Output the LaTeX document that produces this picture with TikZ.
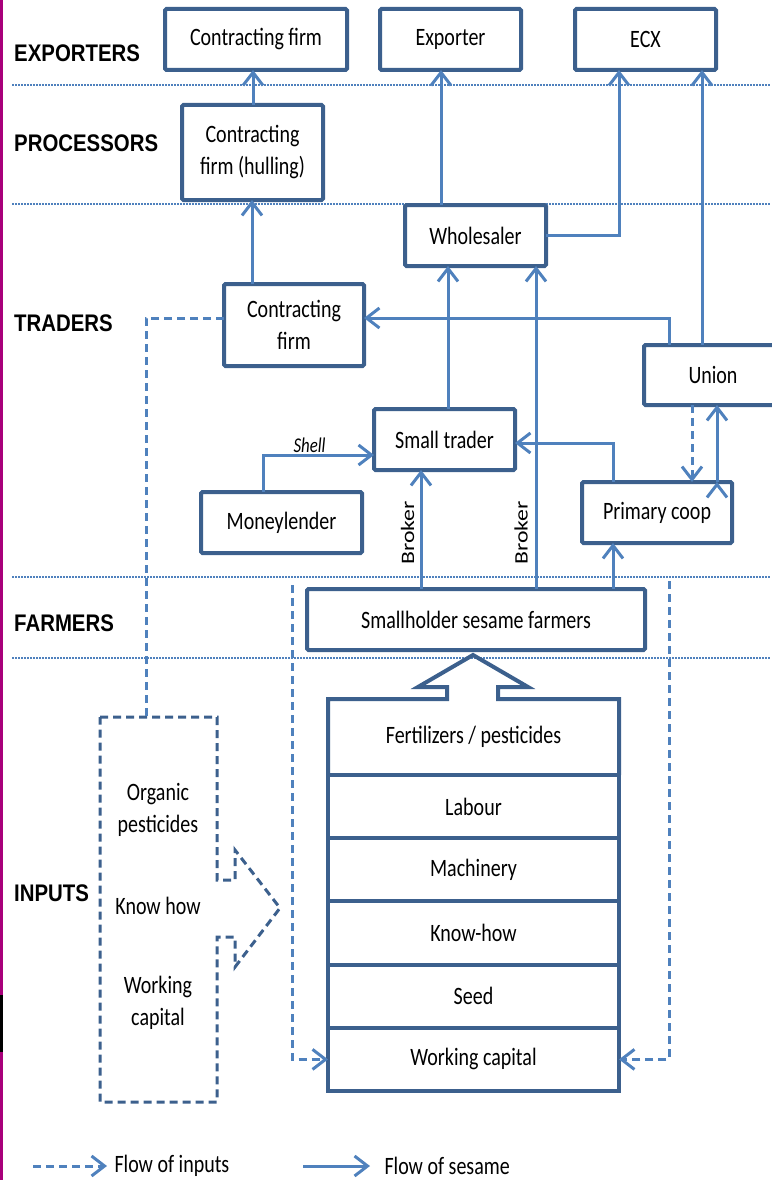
\documentclass[tikz,border=0pt]{standalone}
\usepackage{fontspec}
\setmainfont{Carlito}[FakeStretch=0.8]
\newfontfamily\tierfont{Liberation Sans}[FakeStretch=0.85]
\newfontfamily\brokerfont{Carlito}[FakeStretch=1.25]
\usetikzlibrary{arrows.meta, positioning}

\definecolor{boxblue}{RGB}{60,96,141}
\definecolor{flowblue}{RGB}{79,129,189}
\definecolor{stripmag}{RGB}{168,0,122}

\newcommand{\boxtext}{\fontsize{25}{32}\selectfont}

\tikzset{
  actor/.style={draw=boxblue, line width=4pt, fill=white, rounded corners=1.5pt,
    inner sep=0pt, outer sep=0pt, align=center, font=\boxtext},
  stackrow/.style={actor, minimum width=291pt, minimum height=63.2pt, rounded corners=0pt},
  tier/.style={anchor=west, inner sep=0pt, font=\tierfont\bfseries\fontsize{24}{28}\selectfont},
  sesameflow/.style={draw=flowblue, line width=3pt, -{Straight Barb[length=13pt,width=20pt]}},
  inflow/.style={sesameflow, dash pattern=on 8pt off 5pt},
  tierline/.style={draw=flowblue, line width=1.5pt, dash pattern=on 1.5pt off 1.5pt},
  broker/.style={rotate=90, inner sep=0pt, font=\brokerfont\fontsize{19}{22}\selectfont},
}

\begin{document}
\begin{tikzpicture}[x=1pt, y=-1pt]
  \useasboundingbox (0,0) rectangle (771,1180);
  \fill[stripmag] (0,0) rectangle (3,1180);
  \fill[black] (0,995) rectangle (3,1052);

  % tiers
  \foreach \ly in {85,204,577,658}
    \draw[tierline] (12,\ly) -- (771,\ly);
  \node[tier] (lblexp)  at (14,53)  {EXPORTERS};
  \node[tier] (lblproc) at (14,143) {PROCESSORS};
  \node[tier] (lbltrad) at (14,323) {TRADERS};
  \node[tier] (lblfarm) at (14,623) {FARMERS};
  \node[tier] (lblinp)  at (14,893) {INPUTS};

  % exporters and processors
  \node[actor, minimum width=182pt, minimum height=61pt] (cfexp) at (256,39.5) {Contracting firm};
  \node[actor, minimum width=141pt, minimum height=61pt] (exporter) at (450.5,39.5) {Exporter};
  \node[actor, minimum width=141pt, minimum height=61pt] (ecx) at (645.5,39.5) {ECX};
  \node[actor, minimum width=141pt, minimum height=95pt] (cfhull) at (252.5,152.5) {Contracting\\firm (hulling)};

  % traders
  \node[actor, minimum width=141pt, minimum height=61pt] (wholesaler) at (475.5,235.5) {Wholesaler};
  \node[actor, minimum width=140pt, minimum height=82pt] (cftrade) at (294,325) {Contracting\\firm};
  \node[actor, minimum width=138pt, minimum height=60pt] (union) at (713,375) {Union};
  \node[actor, minimum width=141pt, minimum height=61pt] (smalltrader) at (444.5,439.5) {Small trader};
  \node[actor, minimum width=150pt, minimum height=61pt] (primcoop) at (657,512.5) {Primary coop};
  \node[actor, minimum width=161pt, minimum height=61pt] (moneylender) at (281.5,522.5) {Moneylender};

  % farmers
  \node[actor, minimum width=338pt, minimum height=61pt] (farmers) at (476,619.5) {Smallholder sesame farmers};

  % input stack
  \node[stackrow, draw=none, minimum height=76pt] (fert) at (473.5,737) {Fertilizers / pesticides};
  \node[stackrow, below=0pt of fert] (labour) {Labour};
  \node[stackrow, below=0pt of labour] (machinery) {Machinery};
  \node[stackrow, below=0pt of machinery] (knowhow) {Know-how};
  \node[stackrow, below=0pt of knowhow] (seed) {Seed};
  \node[stackrow, below=0pt of seed] (wcap) {Working capital};
  \draw[draw=boxblue, line width=4pt] (fert.south west) |- (447,699) -- (447,687) -- (418,687)
    -- (473,655) -- (528,687) -- (498,687) -- (498,699) -| (fert.south east);

  % other inputs
  \node[align=center, font=\boxtext] (orgpest) at (158,810) {Organic\\pesticides};
  \node[align=center, font=\boxtext] (knowhowin) at (158,906) {Know how};
  \node[align=center, font=\boxtext] (wcapin) at (158,1003) {Working\\capital};
  \coordinate (inboxtop) at (146,717);
  \draw[draw=boxblue, line width=3pt, dash pattern=on 8pt off 5pt]
    (100,717) -- (217,717) -- (217,880) -- (235,880) -- (235,850) -- (280,908)
    -- (235,967) -- (235,937) -- (217,937) -- (217,1102) -- (100,1102) -- cycle;

  % flow of sesame
  \path[sesameflow]
    (cfhull.north -| 253,0) edge (cfexp.south -| 253,0)
    (cftrade.north -| 252,0) edge (cfhull.south -| 252,0)
    (wholesaler.north -| 441,0) edge (exporter.south -| 441,0)
    (union.north -| 702,0) edge (ecx.south -| 702,0)
    (smalltrader.north -| 448,0) edge (wholesaler.south -| 448,0)
    (farmers.north -| 536,0) edge (wholesaler.south -| 536,0)
    (farmers.north -| 421,0) edge (smalltrader.south -| 421,0)
    (farmers.north -| 613,0) edge (primcoop.south -| 613,0)
    (primcoop.north -| 717,0) edge (union.south -| 717,0);
  \node[broker] (broker1) at (407.5,533) {Broker};
  \node[broker] (broker2) at (521,533) {Broker};
  \draw[sesameflow] (wholesaler.east) -| (ecx.south -| 619,0);
  \draw[sesameflow] (union.north -| 669,0) |- ([yshift=7pt]cftrade.east);
  \draw[sesameflow] (primcoop.north -| 613,0) |- (smalltrader.east |- 0,443);
  \draw[sesameflow] (moneylender.north -| 263,0) |- node[pos=0.71, above=1pt, inner sep=0pt,
    font=\itshape\fontsize{21}{24}\selectfont] {Shell} (smalltrader.west |- 0,455);

  % flow of inputs
  \draw[inflow] (union.south -| 692,0) -- (primcoop.north -| 692,0);
  \draw[inflow, -] ([yshift=7pt]cftrade.west) -| (inboxtop);
  \coordinate (leftin) at (292,585);
  \coordinate (rightin) at (669,581);
  \draw[inflow] (leftin) |- (wcap.west);
  \draw[inflow] (rightin) |- (wcap.east);

  % legend
  \coordinate (legin) at (33,1166);
  \coordinate (legout) at (303,1166);
  \draw[inflow] (legin) -- ++(74,0) node[right=6pt, inner sep=0pt, font=\boxtext] (leginlbl) {Flow of inputs};
  \draw[sesameflow] (legout) -- ++(67,0) node[right=13pt, inner sep=0pt, font=\boxtext] (legoutlbl) {Flow of sesame};
\end{tikzpicture}
\end{document}
